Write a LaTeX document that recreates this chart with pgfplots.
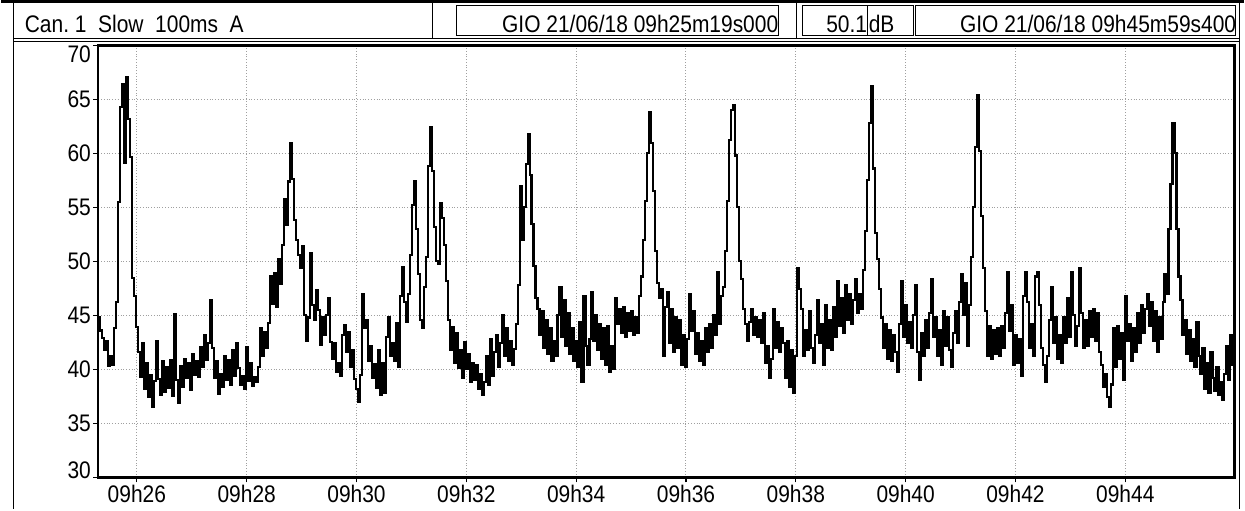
\documentclass[border=0pt]{standalone}
\usepackage{fontspec}
\setmainfont{Liberation Sans}[FakeStretch=0.875]
\usepackage{pgfplots}
\usepackage{pgfplotstable}
\pgfplotsset{compat=1.18}
\pgfplotstableread[row sep=\\]{
v\\
44.8\\ 43.6\\ 42.9\\ 41.8\\ 42.6\\ 40.3\\ 41.2\\ 40.4\\ 43.8\\ 46.2\\
55.5\\ 64.3\\ 66.4\\ 59.1\\ 67.1\\ 63.2\\ 59.7\\ 48.5\\ 46.8\\ 43.9\\
41.6\\ 39.3\\ 42.4\\ 38.2\\ 40.6\\ 37.4\\ 39.5\\ 36.5\\ 38.9\\ 42.6\\
39.1\\ 37.6\\ 40.8\\ 37.9\\ 40.2\\ 38.3\\ 40.9\\ 37.5\\ 45.1\\ 39.0\\
36.9\\ 40.3\\ 38.4\\ 41.0\\ 39.2\\ 40.6\\ 38.1\\ 41.4\\ 39.5\\ 40.8\\
39.3\\ 42.1\\ 40.2\\ 43.2\\ 40.9\\ 42.4\\ 46.4\\ 42.0\\ 39.2\\ 40.8\\
37.7\\ 39.6\\ 38.4\\ 41.2\\ 39.0\\ 40.9\\ 38.6\\ 41.8\\ 39.4\\ 42.4\\
40.1\\ 38.6\\ 39.4\\ 38.2\\ 42.1\\ 38.9\\ 40.6\\ 38.5\\ 39.3\\ 38.8\\
40.2\\ 43.8\\ 41.2\\ 43.5\\ 42.0\\ 44.3\\ 48.6\\ 46.1\\ 48.9\\ 45.8\\
50.2\\ 47.9\\ 51.5\\ 55.8\\ 53.4\\ 57.4\\ 61.0\\ 57.6\\ 53.8\\ 52.0\\
50.6\\ 49.4\\ 51.4\\ 45.0\\ 42.6\\ 44.8\\ 50.8\\ 46.0\\ 44.6\\ 47.3\\
45.5\\ 42.3\\ 44.8\\ 43.2\\ 45.0\\ 46.6\\ 42.5\\ 41.0\\ 42.4\\ 39.8\\
40.6\\ 39.4\\ 43.2\\ 44.1\\ 41.6\\ 43.5\\ 40.2\\ 41.8\\ 39.1\\ 38.2\\
37.0\\ 39.5\\ 47.0\\ 43.8\\ 44.6\\ 40.8\\ 42.2\\ 39.2\\ 40.5\\ 38.3\\
41.8\\ 37.6\\ 40.6\\ 37.8\\ 43.0\\ 44.8\\ 41.2\\ 42.4\\ 40.8\\ 44.3\\
40.2\\ 46.8\\ 49.5\\ 46.2\\ 44.4\\ 47.0\\ 50.6\\ 55.2\\ 57.4\\ 53.0\\
48.8\\ 44.6\\ 43.8\\ 47.6\\ 50.4\\ 58.8\\ 62.4\\ 58.4\\ 53.2\\ 50.0\\
49.8\\ 55.4\\ 54.0\\ 51.5\\ 48.2\\ 44.6\\ 41.8\\ 43.9\\ 40.6\\ 43.4\\
40.1\\ 41.8\\ 39.2\\ 42.5\\ 40.0\\ 41.4\\ 38.8\\ 40.6\\ 39.0\\ 40.4\\
38.2\\ 39.6\\ 37.6\\ 38.8\\ 41.2\\ 38.6\\ 42.8\\ 39.4\\ 41.6\\ 43.2\\
40.2\\ 42.4\\ 45.0\\ 41.2\\ 43.8\\ 40.8\\ 42.6\\ 40.4\\ 41.9\\ 44.2\\
47.8\\ 57.0\\ 52.0\\ 55.0\\ 59.0\\ 61.8\\ 58.0\\ 53.5\\ 49.6\\ 46.6\\
45.6\\ 43.2\\ 45.4\\ 42.0\\ 44.6\\ 41.4\\ 43.8\\ 40.8\\ 42.6\\ 41.2\\
45.0\\ 47.6\\ 43.0\\ 46.4\\ 42.2\\ 45.2\\ 41.4\\ 43.8\\ 40.8\\ 42.6\\
40.2\\ 44.4\\ 38.8\\ 46.8\\ 42.2\\ 40.4\\ 42.8\\ 47.2\\ 42.6\\ 45.0\\
41.8\\ 44.2\\ 41.0\\ 43.8\\ 40.4\\ 44.0\\ 39.8\\ 42.2\\ 40.0\\ 46.6\\
44.2\\ 45.6\\ 43.4\\ 45.8\\ 43.0\\ 45.2\\ 43.6\\ 45.4\\ 43.2\\ 44.8\\
43.4\\ 46.8\\ 48.6\\ 52.0\\ 55.6\\ 60.0\\ 63.8\\ 61.0\\ 56.5\\ 51.0\\
48.0\\ 46.6\\ 47.4\\ 41.2\\ 45.8\\ 47.2\\ 42.4\\ 45.6\\ 41.6\\ 44.8\\
42.0\\ 44.6\\ 40.4\\ 43.2\\ 40.2\\ 42.8\\ 47.0\\ 43.6\\ 45.4\\ 41.4\\
43.4\\ 40.8\\ 42.6\\ 40.4\\ 43.8\\ 41.6\\ 44.2\\ 42.0\\ 45.0\\ 43.2\\
49.0\\ 44.2\\ 46.8\\ 47.6\\ 51.0\\ 55.6\\ 61.2\\ 64.0\\ 64.5\\ 59.8\\
55.0\\ 50.0\\ 48.4\\ 45.6\\ 44.2\\ 42.6\\ 44.4\\ 45.6\\ 43.2\\ 44.8\\
43.0\\ 44.6\\ 42.4\\ 45.2\\ 40.6\\ 42.2\\ 39.2\\ 41.0\\ 45.6\\ 42.0\\
44.4\\ 41.6\\ 43.8\\ 42.4\\ 39.2\\ 42.6\\ 38.4\\ 41.8\\ 37.8\\ 41.2\\
49.4\\ 47.4\\ 45.6\\ 41.2\\ 43.6\\ 41.8\\ 45.4\\ 42.0\\ 40.6\\ 43.2\\
46.4\\ 42.4\\ 44.2\\ 40.4\\ 46.0\\ 42.0\\ 44.6\\ 41.8\\ 45.8\\ 43.0\\
48.2\\ 44.0\\ 46.6\\ 43.4\\ 47.8\\ 44.6\\ 47.0\\ 44.2\\ 46.4\\ 48.4\\
45.2\\ 47.0\\ 45.6\\ 49.2\\ 52.8\\ 57.5\\ 62.8\\ 66.2\\ 58.6\\ 52.6\\
50.2\\ 47.4\\ 44.8\\ 42.0\\ 44.2\\ 41.0\\ 43.6\\ 40.8\\ 43.2\\ 41.6\\
39.8\\ 44.2\\ 48.2\\ 43.0\\ 46.0\\ 42.4\\ 44.4\\ 42.0\\ 45.0\\ 47.8\\
41.6\\ 39.0\\ 43.4\\ 41.2\\ 44.6\\ 42.0\\ 45.2\\ 48.4\\ 43.0\\ 44.8\\
41.2\\ 43.6\\ 40.4\\ 45.4\\ 42.2\\ 44.8\\ 41.8\\ 40.2\\ 43.4\\ 45.4\\
42.4\\ 46.2\\ 48.8\\ 45.0\\ 48.0\\ 42.2\\ 46.0\\ 50.4\\ 55.0\\ 60.6\\
65.4\\ 60.2\\ 54.2\\ 49.4\\ 45.4\\ 41.2\\ 44.0\\ 41.0\\ 43.6\\ 41.4\\
43.8\\ 41.2\\ 44.0\\ 42.0\\ 45.2\\ 49.0\\ 43.6\\ 46.0\\ 40.4\\ 43.2\\
40.6\\ 42.8\\ 39.4\\ 46.8\\ 49.0\\ 46.2\\ 42.0\\ 44.2\\ 41.2\\ 48.6\\
49.0\\ 46.0\\ 42.0\\ 40.4\\ 38.8\\ 41.2\\ 44.6\\ 47.6\\ 42.4\\ 44.8\\
41.0\\ 43.2\\ 40.6\\ 44.8\\ 42.4\\ 46.6\\ 43.0\\ 49.0\\ 45.0\\ 42.2\\
44.0\\ 49.4\\ 45.2\\ 42.0\\ 44.6\\ 42.2\\ 45.4\\ 43.0\\ 45.6\\ 42.6\\
45.2\\ 41.6\\ 40.4\\ 38.4\\ 39.6\\ 37.4\\ 36.5\\ 38.6\\ 43.8\\ 40.2\\
44.0\\ 41.0\\ 43.4\\ 39.0\\ 46.8\\ 42.6\\ 44.2\\ 40.8\\ 43.8\\ 41.6\\
45.2\\ 42.4\\ 46.0\\ 43.4\\ 45.6\\ 47.0\\ 44.0\\ 46.2\\ 42.6\\ 45.4\\
41.6\\ 44.8\\ 42.8\\ 46.2\\ 48.8\\ 47.0\\ 53.0\\ 57.2\\ 62.8\\ 60.0\\
53.0\\ 48.6\\ 46.4\\ 43.2\\ 44.6\\ 41.4\\ 43.6\\ 40.8\\ 42.8\\ 40.2\\
44.4\\ 41.2\\ 39.6\\ 42.0\\ 38.2\\ 40.6\\ 37.8\\ 41.6\\ 39.2\\ 38.0\\
40.2\\ 37.6\\ 38.8\\ 37.2\\ 39.6\\ 42.2\\ 39.0\\ 43.2\\ 40.4\\ 39.2\\
}\leveldata
\begin{document}
\begin{tikzpicture}[font=\fontsize{12bp}{13bp}\selectfont]
\begin{axis}[
  anchor=north west,
  width=569.5bp, height=216.5bp, scale only axis,
  xmin=25.297, xmax=45.99, ymin=30, ymax=70,
  xtick={26,28,...,44},
  xticklabels={09h26,09h28,09h30,09h32,09h34,09h36,09h38,09h40,09h42,09h44},
  ytick={30,35,...,70},
  yticklabels={\raisebox{3.5bp}[8.6bp][0pt]{30},35,40,45,50,55,60,65,\raisebox{-4.5bp}[8.6bp][0pt]{70}},
  /pgf/number format/assume math mode=true,
  tick align=outside, major tick length=2.5bp,
  tick style={black, line width=0.6bp},
  xtick pos=bottom, ytick pos=left,
  grid=major,
  major grid style={gray!75, densely dotted, line width=0.5bp},
  axis line style={line width=1.2bp},
  ticklabel style={font=\fontsize{12bp}{13bp}\selectfont},
  yticklabel style={inner sep=1bp},
  xticklabel style={inner sep=1bp},
]
\addplot[const plot, black, line width=1.05bp] table[x expr={25.2964+\coordindex*0.036364}, y=v] {\leveldata};
\end{axis}
\begin{scope}[x=0.5bp,y=0.5bp,shift={(-97,45)}]
\path (0,0) rectangle (1245,-510);
\draw[line width=1.5bp] (0,-1) -- (1245,-1);
\draw[line width=0.8bp] (12,-1) -- (12,-510);
\draw[line width=0.8bp] (1241,-1) -- (1241,-510);
\draw[line width=0.6bp] (12,-38) -- (1241,-38);
\draw[line width=0.6bp] (12,-41) -- (1241,-41);
\draw[line width=0.6bp] (432,-2) -- (432,-38);
\draw[line width=0.6bp] (797,-2) -- (797,-38);
\draw[line width=0.6bp] (456,-5) rectangle (779,-35);
\draw[line width=0.6bp] (803,-5) rectangle (914,-35);
\draw[line width=0.6bp] (868,-5) -- (868,-35);
\draw[line width=0.6bp] (916,-5) rectangle (1237,-35);
\node[anchor=base west,inner sep=0] at (23,-32) {Can.\ 1\ \ Slow\ \ 100ms\ \ A};
\node[anchor=base east,inner sep=0] at (779,-32) {GIO 21/06/18 09h25m19s000};
\node[anchor=base east,inner sep=0] at (868,-32) {50.1};
\node[anchor=base west,inner sep=0] at (869,-32) {dB};
\node[anchor=base east,inner sep=0] at (1238,-32) {GIO 21/06/18 09h45m59s400};
\end{scope}
\end{tikzpicture}
\end{document}
